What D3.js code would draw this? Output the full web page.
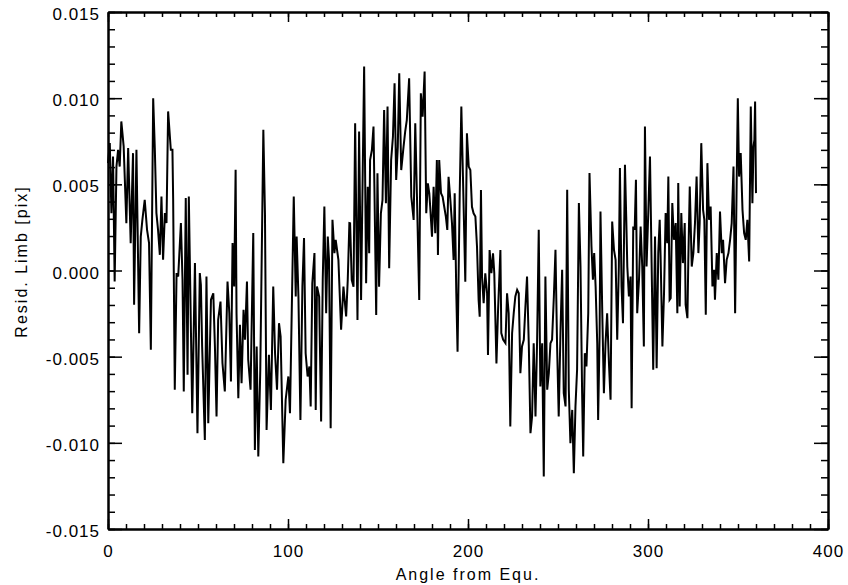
<!DOCTYPE html>
<html><head><meta charset="utf-8">
<script src="https://cdn.jsdelivr.net/npm/d3@7"></script>
<style>body{margin:0;background:#fff}svg{display:block}</style>
</head><body>
<svg id="c" width="848" height="585"></svg>
<script>
// Angle from equator (deg)
const angles = [
 0.0,1.0,1.9,2.8,3.7,4.7,5.6,6.5,7.4,8.7,10.2,11.2,12.6,13.9,14.5,15.8,17.3,18.2,19.1,20.4,21.7,22.8,23.8,25.1,26.0,26.9,27.8,28.8,29.7,30.6,31.6,32.5,33.4,34.9,35.8,36.2,37.1,38.1,39.0,40.5,41.4,42.1,43.2,44.2,44.9,
 46.8,48.3,49.7,51.0,51.6,52.3,53.8,54.7,55.7,57.2,58.5,59.4,60.3,61.2,62.5,63.6,64.9,66.4,67.4,68.3,69.2,70.1,70.9,71.4,72.4,73.3,74.2,75.3,76.1,77.2,77.9,79.2,80.7,81.6,82.6,83.5,84.6,86.3,87.2,88.1,89.4,
 90.5,91.8,92.8,93.9,95.0,95.9,97.4,98.7,100.2,101.1,102.0,103.2,104.3,104.8,105.8,106.9,108.0,108.9,109.8,110.9,111.9,112.6,113.5,114.7,115.4,116.1,117.3,118.4,119.3,120.2,121.2,122.1,122.8,123.7,124.7,125.8,126.5,128.0,129.5,130.8,132.3,133.2,134.1,
 134.5,135.4,136.4,137.3,138.6,139.5,140.6,141.4,142.3,143.4,144.3,145.1,145.6,146.6,147.5,148.0,149.0,149.7,150.6,151.6,152.5,153.4,154.4,155.3,156.2,157.3,158.3,159.2,160.1,161.0,161.8,162.9,164.2,165.1,166.0,167.3,168.5,169.8,170.7,171.6,172.9,173.8,174.8,175.9,176.8,177.7,178.5,
 179.0,180.0,180.9,181.8,182.7,183.3,184.0,185.0,185.9,186.8,187.7,188.5,189.2,190.2,191.1,192.0,192.6,193.5,194.2,195.4,196.3,197.2,198.5,199.4,200.4,201.3,202.2,203.1,204.1,205.0,205.9,206.5,207.2,207.8,208.7,209.6,210.6,211.1,212.0,213.0,213.9,214.6,215.8,216.7,218.0,218.5,219.5,220.8,221.7,222.6,
 223.5,224.5,225.4,226.3,227.3,228.2,229.1,230.0,231.0,231.9,232.8,233.8,234.7,235.6,236.5,237.5,238.4,239.3,240.2,241.2,242.1,243.0,244.0,244.9,245.8,246.7,247.7,248.6,249.5,250.4,251.4,252.3,253.2,254.2,255.1,256.0,256.9,257.9,258.8,259.7,260.6,261.6,262.5,263.4,264.0,264.9,265.8,266.8,267.5,
 268.6,269.4,270.1,270.9,271.8,272.3,273.1,273.6,274.6,275.5,276.4,277.3,278.3,279.2,280.1,281.1,282.0,282.9,283.8,284.4,285.3,286.1,287.2,287.9,288.5,289.4,290.3,290.9,291.8,292.6,293.3,294.0,295.0,295.9,296.8,297.7,298.3,299.2,300.2,301.1,302.0,302.9,303.9,304.8,305.7,306.5,307.0,308.0,308.9,309.8,310.7,311.3,312.0,
 312.6,313.5,314.4,315.4,316.3,316.8,317.6,318.5,319.4,320.4,320.9,321.9,322.4,323.2,324.3,325.2,326.1,327.0,328.0,328.7,329.6,330.6,331.3,332.1,333.0,333.9,334.8,335.8,336.7,337.2,338.2,339.1,340.0,341.0,341.7,342.8,343.7,344.7,345.6,346.5,347.5,348.4,349.3,349.9,350.6,351.5,352.5,353.4,354.3,355.2,356.2,357.1,358.0,358.6,359.1,359.5,360.0
];
// Residual limb, in units of 0.001 pix
const residMilli = [
 6.23,7.39,3.33,6.62,-0.64,6.03,7.00,6.03,8.65,7.20,2.75,7.10,1.59,6.81,-1.99,7.00,-3.64,1.97,2.94,4.10,2.36,1.59,-4.60,10.0,7.10,3.33,2.36,0.91,4.29,0.62,3.33,2.75,9.23,7.00,7.00,4.10,-6.92,-0.15,-0.35,2.75,-0.54,-7.02,4.20,-6.05,4.29,
 -8.28,0.43,-9.44,-0.15,-0.83,-4.41,-9.83,-0.35,-8.86,-1.70,-1.32,-4.41,-8.47,-2.86,-1.80,-5.38,-7.02,-0.64,-2.48,-6.44,1.59,-0.93,5.84,-2.48,-7.41,-3.15,-6.54,-2.28,-4.02,-0.64,-5.18,-6.92,2.17,-10.41,-4.41,-10.79,-5.76,8.16,3.33,-9.25,-4.89,
 -8.09,-0.93,-4.80,-6.92,-3.06,-3.83,-11.18,-7.50,-6.15,-8.28,-2.86,4.29,-1.51,1.97,-1.51,-8.67,-0.93,1.88,-4.80,-6.15,-5.57,-7.89,-0.74,1.01,-8.09,-0.93,-1.51,-8.76,-0.54,3.71,-2.48,1.97,0.62,-9.15,2.94,1.01,1.78,0.62,-3.44,-0.93,-2.67,-0.54,2.75,
 2.74,-0.55,-0.94,8.54,-2.87,8.06,-1.71,4.86,11.83,-0.74,4.86,1.00,6.41,6.99,8.35,4.86,-2.58,5.64,-0.94,3.32,4.09,9.31,3.90,9.51,0.13,6.41,7.76,10.86,5.25,7.19,11.44,5.83,7.19,8.06,8.73,11.15,4.28,2.93,8.54,4.48,-1.71,10.28,8.93,11.54,3.32,5.06,4.48,
 3.70,1.96,4.86,2.16,6.41,0.90,6.41,4.48,4.28,3.70,3.13,2.35,5.44,4.09,2.74,0.61,4.48,-1.32,-4.71,4.48,9.51,5.44,-0.65,7.96,6.03,5.83,3.70,3.32,3.13,1.39,-1.71,-2.68,4.67,-0.36,-1.90,-0.16,-1.32,-4.90,1.19,-0.16,1.00,-0.16,-5.39,-2.29,1.19,-3.63,-4.01,-4.21,-1.32,-2.48,
 -9.05,-3.64,-2.48,-1.51,-1.12,-1.32,-5.96,-4.41,-4.02,-2.09,-0.35,-4.41,-9.44,-8.47,-4.22,-8.47,-4.02,2.36,-6.73,-4.22,-11.95,-0.35,-6.92,-5.96,-4.22,-4.02,-1.51,1.20,-4.41,-8.47,-3.44,0.04,-7.12,-7.89,4.68,-6.92,-10.02,-8.09,-11.76,-7.89,-5.76,3.91,0.23,-7.12,-10.79,-4.80,-5.57,-2.48,5.65,
 1.39,-0.54,1.01,-0.93,-4.22,-8.67,-3.83,3.42,-2.48,-7.12,-4.22,-2.48,-5.38,-7.50,2.84,1.20,0.62,-4.02,0.23,5.94,-0.93,-3.06,6.13,3.13,0.23,-1.51,-0.35,-7.99,2.55,2.36,5.26,-2.48,-0.54,2.55,0.23,-4.41,8.36,0.23,3.52,6.62,0.43,-5.76,1.97,-5.67,1.01,2.94,0.81,-4.41,-1.32,3.33,1.59,5.45,-1.70,
 -1.61,3.91,1.78,2.75,-2.48,5.07,-2.09,3.33,0.43,2.75,-1.99,-2.77,0.62,4.87,0.23,1.01,2.75,5.45,1.01,2.75,7.39,3.52,2.94,-2.57,6.23,2.94,3.71,-0.93,0.04,-1.70,1.01,-0.54,3.42,1.01,1.78,-0.74,0.62,1.01,1.78,2.75,6.03,-2.48,5.45,10.00,5.45,6.81,3.52,2.17,1.78,2.94,0.52,9.52,3.91,7.20,7.58,9.81,4.49
];
const xTicks = [0, 100, 200, 300, 400];
const xTickLabels = ["0", "100", "200", "300", "400"];
const yTicks = [-15, -10, -5, 0, 5, 10, 15];
const yTickLabels = ["-0.015", "-0.010", "-0.005", "0.000", "0.005", "0.010", "0.015"];
const xTitle = "Angle from Equ.";
const yTitle = "Resid. Limb [pix]";

const svg = d3.select("#c");
const L = 108, R = 828, T = 12, B = 529;
const x = d3.scaleLinear().domain([0, 400]).range([L, R]);
const y = d3.scaleLinear().domain([-15, 15]).range([B, T]);
const xMinor = d3.range(0, 401, 10);
const yMinor = d3.range(-15, 15.01, 1);
const font = "'Liberation Sans', Arial, Helvetica, sans-serif";

function style(g) {
  g.select(".domain").attr("stroke", "#000").attr("stroke-width", 2);
  g.selectAll(".tick line").attr("stroke", "#000").attr("stroke-width", 1.5);
  g.selectAll("text").attr("fill", "#000").style("font-family", font)
    .style("font-size", "17px").style("letter-spacing", "1px");
}

// bottom
svg.append("g").attr("transform", `translate(0,${B})`)
  .call(d3.axisBottom(x).tickValues(xMinor).tickSize(-5).tickSizeOuter(0).tickFormat(""))
  .call(style);
svg.append("g").attr("transform", `translate(0,${B})`)
  .call(d3.axisBottom(x).tickValues(xTicks).tickSize(-10).tickSizeOuter(0).tickPadding(16)
    .tickFormat((d, i) => xTickLabels[i]))
  .call(style);
// top
svg.append("g").attr("transform", `translate(0,${T})`)
  .call(d3.axisTop(x).tickValues(xMinor).tickSize(-5).tickSizeOuter(0).tickFormat(""))
  .call(style);
svg.append("g").attr("transform", `translate(0,${T})`)
  .call(d3.axisTop(x).tickValues(xTicks).tickSize(-10).tickSizeOuter(0).tickFormat(""))
  .call(style);
// left
svg.append("g").attr("transform", `translate(${L},0)`)
  .call(d3.axisLeft(y).tickValues(yMinor).tickSize(-7).tickSizeOuter(0).tickFormat(""))
  .call(style);
const gl = svg.append("g").attr("transform", `translate(${L},0)`)
  .call(d3.axisLeft(y).tickValues(yTicks).tickSize(-14).tickSizeOuter(0).tickPadding(8)
    .tickFormat((d, i) => yTickLabels[i]))
  .call(style);
gl.selectAll("text").attr("dy", "0.45em");
// right
svg.append("g").attr("transform", `translate(${R},0)`)
  .call(d3.axisRight(y).tickValues(yMinor).tickSize(-7).tickSizeOuter(0).tickFormat(""))
  .call(style);
svg.append("g").attr("transform", `translate(${R},0)`)
  .call(d3.axisRight(y).tickValues(yTicks).tickSize(-14).tickSizeOuter(0).tickFormat(""))
  .call(style);

// data line
const n = Math.min(angles.length, residMilli.length);
const pts = d3.range(n).map(i => [angles[i], residMilli[i]]);
svg.append("path").datum(pts)
  .attr("fill", "none").attr("stroke", "#000").attr("stroke-width", 2)
  .attr("d", d3.line().x(d => x(d[0])).y(d => y(d[1])));

// titles
svg.append("text").attr("x", (L + R) / 2).attr("y", 580).attr("text-anchor", "middle")
  .style("font-family", font).style("font-size", "16px").style("letter-spacing", "2px")
  .text(xTitle);
svg.append("text").attr("transform", `translate(27,${(T + B) / 2 - 9}) rotate(-90)`)
  .attr("text-anchor", "middle")
  .style("font-family", font).style("font-size", "16px").style("letter-spacing", "2px")
  .text(yTitle);
</script>
</body></html>
